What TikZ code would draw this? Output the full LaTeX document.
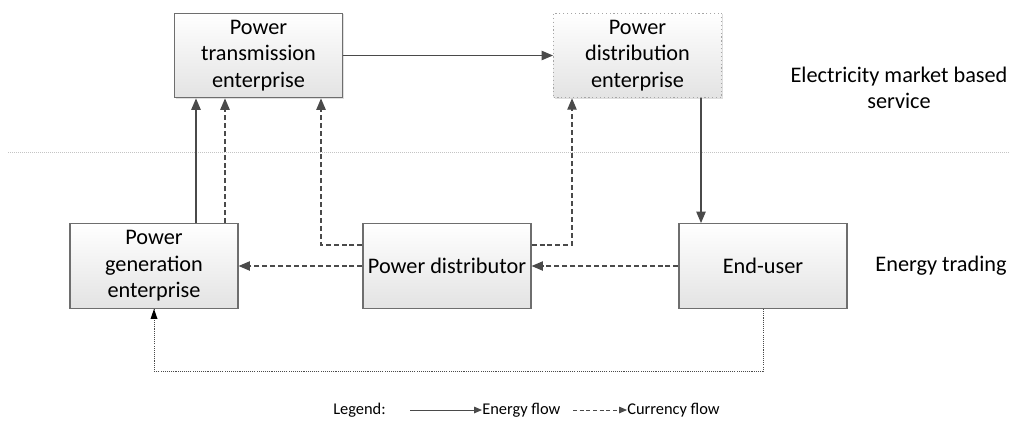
\documentclass[tikz,border=0pt]{standalone}
\usepackage{fontspec}
\setmainfont{Carlito}
\usetikzlibrary{arrows.meta,shadows}
\definecolor{lineg}{HTML}{4A4A4A}
\definecolor{boxg}{HTML}{6E6E6E}
\definecolor{sepg}{HTML}{C4C4C4}
\tikzset{
  x=0.75pt,y=-0.75pt,
  mainfont/.style={font=\fontsize{16.7pt}{19.9pt}\selectfont},
  box/.style={draw=boxg, line width=0.9pt, top color=white, bottom color=black!11,
    minimum width=126pt, minimum height=63.5pt, align=center, inner sep=1pt, mainfont,
    drop shadow={shadow xshift=0.8pt, shadow yshift=-0.8pt, opacity=0.25, fill=gray}},
  selbox/.style={box, draw=black!35, dotted, line width=0.7pt},
  tip/.style={-{Triangle[length=8.5pt,width=7pt]}},
  smalltip/.style={-{Triangle[length=6pt,width=5pt]}},
  energy/.style={draw=lineg, line width=0.9pt},
  curr/.style={draw=lineg, line width=0.9pt, dash pattern=on 3.75pt off 2.2pt},
  dotflow/.style={draw=lineg, line width=0.7pt, dash pattern=on 0.8pt off 0.8pt},
  lab/.style={mainfont, align=center, inner sep=0pt},
  leglab/.style={font=\fontsize{12.3pt}{14pt}\selectfont, inner sep=0pt, anchor=west},
}
\begin{document}
\begin{tikzpicture}
\useasboundingbox (0,0) rectangle (1016,424);
% separator
\draw[sepg, line width=0.6pt, dash pattern=on 0.75pt off 0.75pt] (8,152) -- (1010,152);
% boxes
\node[box] (trans) at (258.5,55.5) {Power\\transmission\\enterprise};
\node[selbox] (dist) at (637.5,55.5) {Power\\distribution\\enterprise};
\node[box] (gen) at (154,266) {Power\\generation\\enterprise};
\node[box] (pd) at (447,266) {Power distributor};
\node[box] (eu) at (763,266) {End-user};
% labels
\node[lab] (elec) at (899,88) {Electricity market based\\service};
\node[lab] (trade) at (941,266) {Energy trading};
% helper coordinates
\coordinate (x196) at (196,0);
\coordinate (x225) at (225,0);
\coordinate (x321) at (321,0);
\coordinate (x572) at (572,0);
\coordinate (x701) at (701,0);
\coordinate (y245) at (0,245);
\coordinate (y371) at (0,371);
% connectors
\draw[energy,tip] (trans.east) -- (dist.west);
\draw[energy,tip] (gen.north -| x196) -- (trans.south -| x196);
\draw[curr,tip] (gen.north -| x225) -- (trans.south -| x225);
\draw[curr,tip] (pd.west |- y245) -| (trans.south -| x321);
\draw[curr,tip] (pd.east |- y245) -| (dist.south -| x572);
\draw[energy,tip] (dist.south -| x701) -- (eu.north -| x701);
\draw[curr,tip] (eu.west) -- (pd.east);
\draw[curr,tip] (pd.west) -- (gen.east);
\draw[dotflow] (eu.south) -- (eu.south |- y371) -| (gen.south);
\fill[black] (gen.south) -- ++(-3.5,10) -- ++(7,0) -- cycle;
% legend
\node[leglab] (leg) at (333,410) {Legend:};
\coordinate (ls) at (410,410);
\node[leglab] (ef) at (482,410) {Energy flow};
\coordinate (cs) at (573,410);
\node[leglab] (cf) at (627,410) {Currency flow};
\draw[energy,smalltip,line width=0.7pt] (ls) -- (ef.west);
\draw[curr,smalltip,line width=0.7pt,dash pattern=on 3pt off 2pt] (cs) -- (cf.west);
\end{tikzpicture}
\end{document}
